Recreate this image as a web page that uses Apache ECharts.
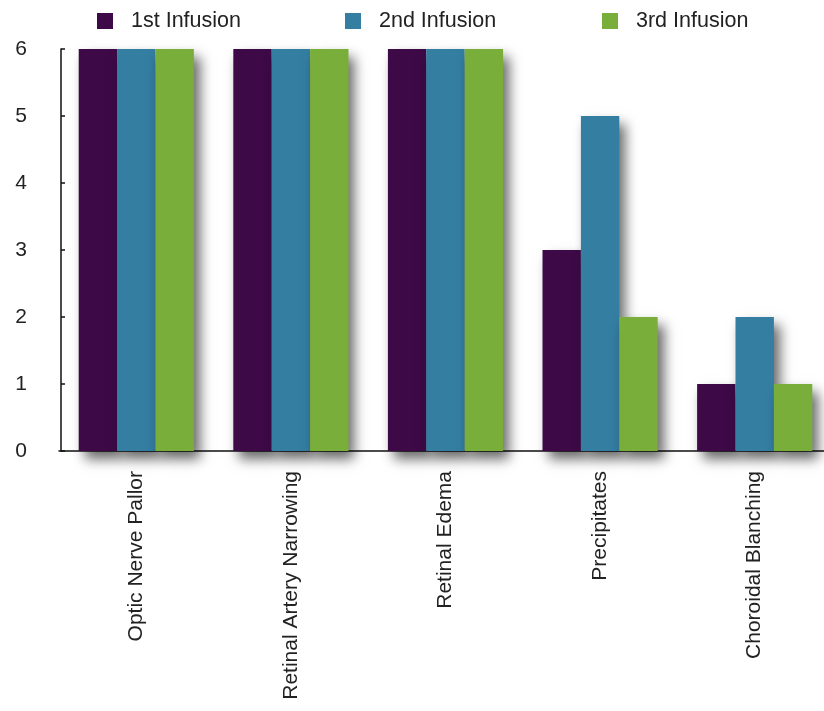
<!DOCTYPE html>
<html>
<head>
<meta charset="utf-8">
<script src="https://cdn.jsdelivr.net/npm/echarts@6/dist/echarts.min.js"></script>
<style>
  html, body { margin: 0; padding: 0; background: #fff; overflow: hidden; }
  /* the plot runs a little past the right edge of the window */
  #chart { width: 850px; height: 711px; }
</style>
</head>
<body>
<div id="chart"></div>
<script>
// Findings by infusion
const categories = ['Optic Nerve Pallor', 'Retinal Artery Narrowing', 'Retinal Edema', 'Precipitates', 'Choroidal Blanching'];
const seriesNames = ['1st Infusion', '2nd Infusion', '3rd Infusion'];
const firstInfusion = [6, 6, 6, 3, 1];
const secondInfusion = [6, 6, 6, 5, 2];
const thirdInfusion = [6, 6, 6, 2, 1];
const yTicks = [0, 1, 2, 3, 4, 5, 6];

const colors = ['#3d0a47', '#347ea2', '#7aae3b'];
const font = 'Liberation Sans, Arial, Helvetica, sans-serif';
const legendLefts = [97, 345, 602];

const chart = echarts.init(document.getElementById('chart'), null, { renderer: 'canvas' });

const makeSeries = (name, data, color) => ({
  name: name,
  type: 'bar',
  data: data,
  barGap: '0%',
  barCategoryGap: '25.5%',
  itemStyle: {
    color: color,
    shadowColor: 'rgba(0,0,0,0.6)',
    shadowBlur: 12,
    shadowOffsetX: 6,
    shadowOffsetY: 8
  },
  emphasis: { disabled: true }
});

// one legend entry per infusion, each placed on its own
const legends = seriesNames.map((name, i) => ({
  top: 10,
  left: legendLefts[i],
  padding: 0,
  itemWidth: 16,
  itemHeight: 16,
  icon: 'rect',
  selectedMode: false,
  textStyle: { fontSize: 21.5, color: '#222', fontFamily: font, padding: [0, 0, 0, 13] },
  data: [name]
}));

chart.setOption({
  animation: false,
  textStyle: { fontFamily: font },
  legend: legends,
  grid: { left: 59, top: 49, width: 773, height: 402, containLabel: false },
  xAxis: {
    type: 'category',
    data: categories,
    axisLine: { lineStyle: { color: '#111', width: 1.5 } },
    axisTick: { show: false },
    axisLabel: { rotate: 90, margin: 20, fontSize: 21, color: '#222', fontFamily: font, interval: 0 }
  },
  yAxis: {
    type: 'value',
    min: yTicks[0],
    max: yTicks[yTicks.length - 1],
    interval: 1,
    offset: -2,
    splitLine: { show: false },
    axisLine: { show: true, lineStyle: { color: '#111', width: 1.5 } },
    axisTick: { show: true, inside: true, length: 4, lineStyle: { color: '#111', width: 1.5 } },
    axisLabel: { margin: 34, fontSize: 21, color: '#222', fontFamily: font }
  },
  series: [
    makeSeries(seriesNames[0], firstInfusion, colors[0]),
    makeSeries(seriesNames[1], secondInfusion, colors[1]),
    makeSeries(seriesNames[2], thirdInfusion, colors[2])
  ]
});
</script>
</body>
</html>
